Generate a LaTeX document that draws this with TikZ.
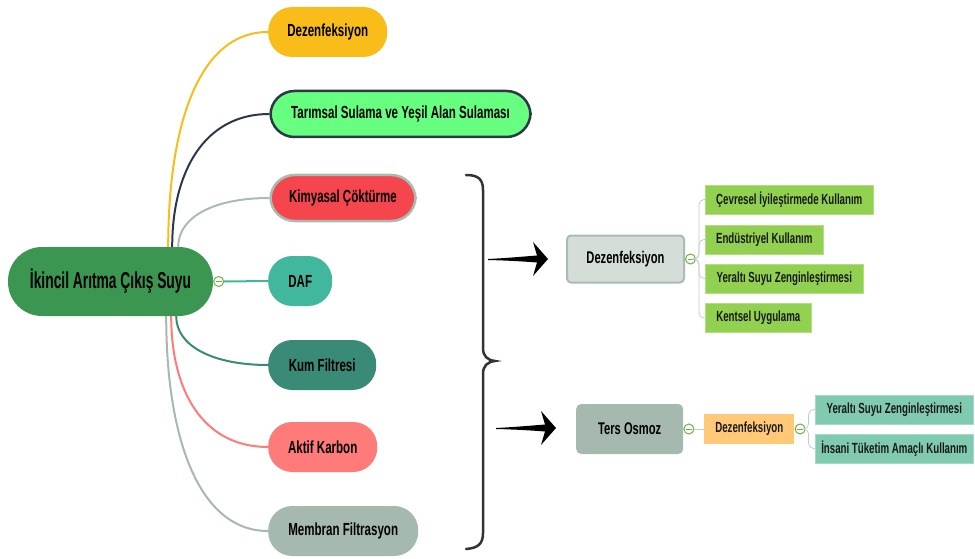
\documentclass[tikz,border=0pt]{standalone}
\usepackage{fontspec}
\setmainfont{Liberation Sans}[FakeStretch=0.66]
\newfontfamily\rootfont{Liberation Sans}[FakeStretch=0.6]
\definecolor{rootgreen}{HTML}{3A9651}
\definecolor{yellowc}{HTML}{F9BD1A}
\definecolor{tarfill}{HTML}{66FF80}
\definecolor{navyc}{HTML}{2B3848}
\definecolor{kimfill}{HTML}{F5464E}
\definecolor{greyc}{HTML}{A9BCB2}
\definecolor{dafc}{HTML}{41B89D}
\definecolor{kumc}{HTML}{3A8A78}
\definecolor{aktc}{HTML}{FF7B7A}
\definecolor{memc}{HTML}{A6B9AF}
\definecolor{dzfill}{HTML}{D5DDD8}
\definecolor{orangec}{HTML}{FFC978}
\definecolor{subgreen}{HTML}{92D050}
\definecolor{mintc}{HTML}{80CAB0}
\definecolor{collc}{HTML}{6DB33F}
\definecolor{thinline}{HTML}{C5CDC8}
\definecolor{bracec}{HTML}{333333}
\begin{document}
\begin{tikzpicture}[x=1pt,y=-1pt,
  pill/.style={rectangle, rounded corners=24pt, minimum height=50pt, inner sep=0pt, anchor=west,
    font=\bfseries\fontsize{17.5}{19}\selectfont, text=black},
  subbox/.style={rectangle, minimum height=29pt, inner sep=0pt, anchor=west, line width=0.6pt,
    font=\bfseries\fontsize{14.7}{16}\selectfont, text=black!90},
  collapse/.style={circle, draw=collc, fill=white, line width=1pt, minimum size=10pt, inner sep=0pt,
    path picture={\draw[collc, line width=1pt] ([xshift=-3pt]path picture bounding box.center) -- ([xshift=3pt]path picture bounding box.center);}},
  branchline/.style={line width=2pt},
  thin/.style={draw=thinline, line width=0.8pt, rounded corners=5pt},
  bigarrow/.pic={\fill[black] (0,0) .. controls (20,-1) and (36,-2.5) .. (49,-3.5) -- (45,-17) -- (60,0) -- (45,17) -- (49,3.5) .. controls (36,2.5) and (20,1.5) .. (0,1) -- cycle;}
]
\useasboundingbox (0,0) rectangle (975,559);

% root
\node[font=\rootfont\bfseries\fontsize{23}{26}\selectfont, fill=rootgreen, rounded corners=34pt,
  minimum width=205pt, minimum height=69pt, inner sep=0pt, text=black] (root) at (110.5,281.5) {İkincil Arıtma Çıkış Suyu};

% branches
\node[pill, fill=yellowc, minimum width=119pt] (dez) at (268,32) {Dezenfeksiyon};
\node[pill, fill=tarfill, draw=navyc, line width=2.5pt, minimum width=260pt, minimum height=46pt] (tar) at (269.25,114) {Tarımsal Sulama ve Yeşil Alan Sulaması};
\node[pill, fill=kimfill, draw=greyc, line width=2.5pt, minimum width=145pt, minimum height=46pt] (kim) at (269.25,198) {Kimyasal Çöktürme};
\node[pill, fill=dafc, minimum width=64pt] (daf) at (268,281) {DAF};
\node[pill, fill=kumc, minimum width=108pt] (kum) at (268,365) {Kum Filtresi};
\node[pill, fill=aktc, minimum width=109pt] (akt) at (268,447) {Aktif Karbon};
\node[pill, fill=memc, minimum width=150pt] (mem) at (268,531) {Membran Filtrasyon};

% connectors from root
\draw[branchline, yellowc] ([xshift=-45pt]root.north east) .. controls +(0,-120) and +(-70,0) .. (dez.west);
\draw[branchline, navyc] ([xshift=-41pt]root.north east) .. controls +(0,-75) and +(-65,0) .. (tar.west);
\draw[branchline, greyc] ([xshift=-35pt]root.north east) .. controls +(0,-30) and +(-55,0) .. (kim.west);
\draw[branchline, kumc] ([xshift=-37pt]root.south east) .. controls +(0,30) and +(-55,0) .. (kum.west);
\draw[branchline, aktc] ([xshift=-42pt]root.south east) .. controls +(0,75) and +(-65,0) .. (akt.west);
\draw[branchline, memc] ([xshift=-47pt]root.south east) .. controls +(0,120) and +(-70,0) .. (mem.west);
\node[collapse, anchor=west] (c0) at (root.east) {};
\draw[branchline, dafc] (c0.east) -- (daf.west);

% brace
\draw[bracec, line width=2.5pt, line cap=round] (466,175) .. controls (478,175) and (483,179) .. (483,190) -- (483,348)
  .. controls (483,356) and (487,360) .. (495,361) .. controls (487,362) and (483,366) .. (483,374) -- (483,533)
  .. controls (483,544) and (478,548) .. (466,549);

% arrows
\coordinate (a1) at (488,259);
\coordinate (a2) at (496,428);
\pic at (a1) {bigarrow};
\pic at (a2) {bigarrow};

% upper group
\node[rectangle, rounded corners=4pt, fill=dzfill, draw=greyc, line width=2pt, minimum width=117pt, minimum height=47pt,
  inner sep=0pt, anchor=west, font=\bfseries\fontsize{16.9}{18}\selectfont] (dz2) at (566,259) {Dezenfeksiyon};
\node[collapse, anchor=west] (c1) at (dz2.east) {};
\node[subbox, fill=subgreen, draw=subgreen!70!white, minimum width=168pt] (g1) at (705,199.5) {Çevresel İyileştirmede Kullanım};
\node[subbox, fill=subgreen, draw=subgreen!70!white, minimum width=118pt] (g2) at (705,239.5) {Endüstriyel Kullanım};
\node[subbox, fill=subgreen, draw=subgreen!70!white, minimum width=158pt] (g3) at (705,278.5) {Yeraltı Suyu Zenginleştirmesi};
\node[subbox, fill=subgreen, draw=subgreen!70!white, minimum width=106pt] (g4) at (705,318) {Kentsel Uygulama};
\foreach \g in {g1,g2,g3,g4} \draw[thin] (c1.east) -- ++(3,0) |- (\g.west);

% lower group
\node[rectangle, rounded corners=5pt, fill=memc, minimum width=107pt, minimum height=50pt,
  inner sep=0pt, anchor=west, font=\bfseries\fontsize{16.9}{18}\selectfont] (ters) at (576,429) {Ters Osmoz};
\node[collapse, anchor=west] (c2) at (ters.east) {};
\node[subbox, fill=orangec, minimum width=90pt, minimum height=30pt] (o1) at (704,429) {Dezenfeksiyon};
\draw[thin] (c2.east) -- (o1.west);
\node[collapse, anchor=west] (c3) at (o1.east) {};
\node[subbox, fill=mintc, draw=mintc!70!white, minimum width=158pt] (m1) at (815,409.5) {Yeraltı Suyu Zenginleştirmesi};
\node[subbox, fill=mintc, draw=mintc!70!white, minimum width=158pt] (m2) at (815,448.5) {İnsani Tüketim Amaçlı Kullanım};
\foreach \m in {m1,m2} \draw[thin] (c3.east) -- ++(3,0) |- (\m.west);
\end{tikzpicture}
\end{document}
